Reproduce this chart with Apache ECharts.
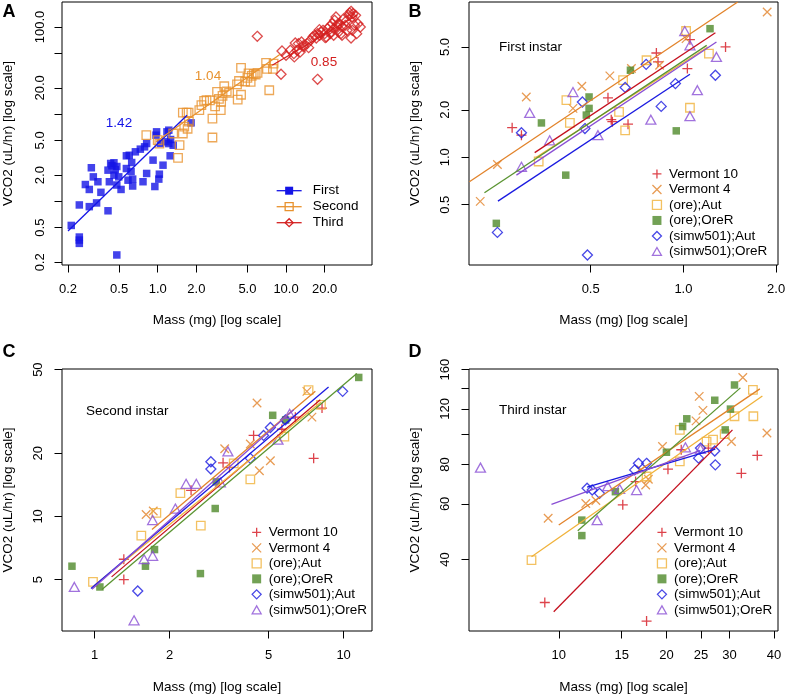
<!DOCTYPE html>
<html><head><meta charset="utf-8">
<script src="https://cdn.jsdelivr.net/npm/echarts@6/dist/echarts.min.js"></script>
<style>html,body{margin:0;padding:0;background:#fff}#c{width:787px;height:695px}</style>
</head><body><div id="c"></div>
<script>
// ---------- Panel A data (mass mg, VCO2 uL/hr) ----------
const aFirst = [[0.212,0.53],[0.245,0.91],[0.245,0.39],[0.245,0.36],[0.245,0.33],[0.273,1.56],[0.293,1.37],[0.293,0.87],[0.304,2.43],[0.315,1.91],[0.334,0.96],[0.342,1.68],[0.361,1.27],[0.41,0.78],[0.41,2.28],[0.42,1.68],[0.43,2.72],[0.44,2.56],[0.456,2.77],[0.467,2.3],[0.456,2.0],[0.48,1.54],[0.48,0.243],[0.497,1.91],[0.518,1.37],[0.48,2.51],[0.57,3.33],[0.57,2.38],[0.587,1.75],[0.6,3.38],[0.627,2.79],[0.62,2.2],[0.638,1.5],[0.638,1.8],[0.67,3.7],[0.732,3.97],[0.768,1.68],[0.79,4.22],[0.82,4.61],[0.82,2.09],[0.92,2.97],[0.95,1.48],[0.97,5.74],[0.98,6.27],[1.02,1.8],[1.03,2.05],[1.05,4.61],[1.1,2.6],[1.16,4.82],[1.18,6.27],[1.22,6.55],[1.22,4.6],[1.25,3.33],[1.26,5.12],[1.32,4.4],[1.82,7.95]];
const aSecond = [[0.815,5.74],[1.0,5.03],[1.03,4.6],[1.32,6.0],[1.44,3.16],[1.48,4.41],[1.57,6.0],[1.57,10.4],[1.61,7.2],[1.68,10.4],[1.71,6.8],[1.74,10.4],[1.75,8.2],[2.11,11.1],[2.19,12.7],[2.3,14.2],[2.4,14.5],[2.55,14.4],[2.67,8.9],[2.67,5.4],[2.8,12.3],[2.9,18],[3.0,15],[3.1,11.1],[3.12,13.8],[3.2,16.2],[3.3,20.9],[3.45,18.2],[3.6,17.5],[4.15,22],[4.2,14.7],[4.3,24],[4.46,34],[4.46,16.7],[4.8,23.7],[5.0,26],[5.1,29.3],[5.3,23.4],[5.4,27.5],[5.6,29],[5.8,28.5],[6.0,29.7],[6.99,38.7],[7.1,33],[7.4,18.8],[7.9,33],[8.0,38]];
const aThird = [[5.97,78.1],[9.3,53.0],[9.14,28.7],[17.6,25.1],[10.0,47.3],[11.6,45.3],[11.8,65.5],[12.2,54.0],[12.5,64.4],[13.2,67.3],[13.7,59.0],[14.6,64.4],[15.0,57.9],[15.5,70.3],[16.2,76.7],[16.6,80.2],[17.2,74.7],[17.6,83.8],[18.3,80.2],[18.7,87.5],[19.4,91.5],[20.0,83.8],[20.6,76.7],[21.1,95.6],[21.9,101.6],[22.4,87.5],[22.9,109.0],[23.5,95.6],[23.9,119.1],[24.5,130.0],[24.9,101.6],[25.7,87.5],[26.2,109.0],[26.8,83.8],[27.4,99.9],[28.1,124.4],[28.9,104.4],[29.9,91.5],[30.8,135.8],[31.3,144.5],[32.1,151.0],[32.6,130.0],[33.2,141.9],[34.1,104.4],[34.8,135.8],[35.5,83.8],[36.3,109.0],[37.9,99.9],[32.1,74.7],[27.3,80.2],[20.2,75.4],[13.7,61.6],[12.9,51.7],[11.5,49.4],[10.8,54.0],[18.2,93.1],[22.1,83.8],[23.5,80.2],[25.2,107.2],[29.4,117.0],[32.8,91.5]];
const aFitFirst = [[0.2,0.457],[1.69,9.73]];
const aFitSecond = [[0.97,4.82],[9.0,48.6]];
const aFitThird = [[7.8,36.4],[36,137]];
const aSlopes = ['1.42','1.04','0.85'];

// ---------- Panel B data: first instar ----------
const bV10 = [[0.278,1.54],[0.298,1.38],[0.569,2.38],[0.583,1.73],[0.588,1.68],[0.661,1.62],[0.817,4.58],[0.827,4.02],[1.03,3.65],[1.05,5.56],[1.37,5.0]];
const bV4 = [[0.219,0.525],[0.249,0.9],[0.309,2.41],[0.438,2.04],[0.468,2.82],[0.577,3.28],[0.678,3.65],[0.837,3.83],[1.02,5.65],[1.87,8.33]];
const bOreAut = [[0.339,0.94],[0.417,2.3],[0.428,1.65],[0.618,1.94],[0.637,3.08],[0.647,1.48],[0.759,4.12],[1.02,6.31],[1.05,2.06],[1.21,4.54]];
const bOreOreR = [[0.247,0.381],[0.346,1.65],[0.415,0.77],[0.484,1.85],[0.494,2.41],[0.494,2.04],[0.673,3.56],[0.948,1.47],[1.22,6.53]];
const bSimAut = [[0.249,0.334],[0.298,1.43],[0.47,2.24],[0.479,1.52],[0.488,0.24],[0.647,2.77],[0.757,3.88],[0.847,2.1],[0.942,2.93],[1.27,3.31]];
const bSimOreR = [[0.298,0.87],[0.317,1.91],[0.368,1.28],[0.438,2.59],[0.528,1.38],[0.784,1.73],[1.01,6.31],[1.05,5.12],[1.05,1.82],[1.11,2.66],[1.28,4.32]];
const bFitV10 = [[0.329,1.07],[1.27,6.16]];
const bFitV4 = [[0.202,0.70],[1.50,9.64]];
const bFitOreAut = [[0.333,1.0],[1.20,5.0]];
const bFitOreOreR = [[0.226,0.596],[1.19,5.12]];
const bFitSimAut = [[0.25,0.527],[1.05,3.36]];
const bFitSimOreR = [[0.287,0.77],[1.28,5.38]];

// ---------- Panel C data: second instar ----------
const cV10 = [[1.31,6.25],[1.31,5.0],[2.44,13.3],[3.28,18.0],[3.48,17.1],[4.35,24.3],[5.65,26.0],[6.4,29.7],[7.58,18.9],[8.19,32.8]];
const cV4 = [[1.61,10.2],[1.72,10.6],[3.33,21.0],[4.22,22.1],[4.49,34.7],[4.59,16.5],[5.08,18.4],[7.12,39.4],[7.46,29.7]];
const cOreAut = [[0.985,4.88],[1.54,8.09],[1.77,10.4],[2.21,12.9],[2.67,9.03],[3.62,17.9],[4.22,15.0],[5.78,24.0],[7.23,39.9],[8.11,34.0]];
const cOreOreR = [[0.811,5.79],[1.05,4.61],[1.6,5.79],[1.74,6.95],[2.66,5.34],[3.05,10.9],[3.08,14.6],[5.19,30.3],[5.85,28.8],[11.5,45.9]];
const cSimAut = [[1.49,4.41],[2.93,18.2],[2.93,16.8],[4.22,18.9],[4.77,24.3],[5.08,26.5],[5.84,28.8],[9.91,39.4]];
const cSimOreR = [[0.829,4.61],[1.44,3.2],[1.58,6.25],[1.71,6.49],[1.71,9.6],[2.11,10.9],[2.33,14.3],[2.56,14.3],[3.2,14.5],[3.43,20.4],[5.45,23.2],[6.07,30.8]];
const cFitV10 = [[1.17,5.15],[8.06,35.9]];
const cFitV4 = [[1.7,8.67],[7.7,39.4]];
const cFitOreAut = [[1.0,4.7],[8.1,35.0]];
const cFitOreOreR = [[1.07,4.48],[11.3,47.9]];
const cFitSimAut = [[0.967,4.53],[8.7,41.3]];
const cFitSimOreR = [[0.976,4.5],[6.3,32.2]];

// ---------- Panel D data: third instar ----------
const dV10 = [[9.14,29.2],[15.1,59.6],[16.4,70.6],[17.6,25.5],[20.2,77.3],[22.0,89.1],[26.2,90.2],[32.4,75.0],[35.9,85.5]];
const dV4 = [[9.34,54.0],[11.9,60.2],[12.7,61.5],[17.0,76.9],[17.5,68.9],[17.8,71.8],[19.5,91.2],[24.2,110],[24.7,131.6],[25.3,118.8],[30.4,94.6],[32.7,151],[38.2,100.7]];
const dOreAut = [[8.39,39.8],[17.6,73.3],[21.8,103],[21.8,81.9],[25.9,94.6],[27.0,95.9],[29.1,99.9],[31.0,113.8],[34.9,138],[35.0,113.8]];
const dOreOreR = [[11.6,53.3],[11.6,47.6],[14.4,65.6],[20.0,87.5],[22.2,105.6],[22.8,111.7],[27.3,127.9],[29.2,103],[30.2,119.9],[31.0,143]];
const dSimAut = [[12.0,67.3],[12.4,66.4],[13.0,64.8],[16.3,76.9],[16.7,80.7],[17.6,80.7],[24.6,83.8],[24.9,90.2],[27.3,88.3],[27.4,79.8]];
const dSimOreR = [[6.04,78.2],[12.8,53.3],[13.7,68.3],[14.8,66.9],[16.5,66.4],[22.6,90.7],[24.9,89.6]];
const dFitV10 = [[9.68,27.3],[30.6,103]];
const dFitV4 = [[10.0,51.4],[36.5,139]];
const dFitOreAut = [[8.39,40.8],[37.1,132]];
const dFitOreOreR = [[11.3,49.3],[32.2,140]];
const dFitSimAut = [[12.0,67.8],[27.4,89.5]];
const dFitSimOreR = [[9.54,59.8],[24.9,88.7]];

// ---------- categories & tick labels ----------
const aStages = ['First','Second','Third'];
const groups = ['Vermont 10','Vermont 4','(ore);Aut','(ore);OreR','(simw501);Aut','(simw501);OreR'];
const panelNotes = ['First instar','Second instar','Third instar'];
const aXTicks = [0.2,0.5,1,2,5,10,20], aXLabelVals = [0.2,0.5,1,2,5,10,20], aXLabels = ['0.2','0.5','1.0','2.0','5.0','10.0','20.0'];
const aYTicks = [0.2,0.5,1,2,5,10,20,50,100], aYLabelVals = [0.2,0.5,2,5,20,100], aYLabels = ['0.2','0.5','2.0','5.0','20.0','100.0'];
const bXTicks = [0.5,1,2], bXLabels = ['0.5','1.0','2.0'];
const bYTicks = [0.5,1,2,5], bYLabels = ['0.5','1.0','2.0','5.0'];
const cXTicks = [1,2,5,10], cXLabels = ['1','2','5','10'];
const cYTicks = [5,10,20,50], cYLabels = ['5','10','20','50'];
const dXTicks = [10,15,20,25,30,40], dXLabels = ['10','15','20','25','30','40'];
const dYTicks = [40,60,80,100,120,140,160], dYLabelVals = [40,60,80,120,160], dYLabels = ['40','60','80','120','160'];

// ---------- styling ----------
const FONT = "'Liberation Sans', Arial, Helvetica, sans-serif";
const L = Math.log10;
const PLUS = 'path://M0,-1L0,1M-1,0L1,0';
const CROSS = 'path://M-1,-1L1,1M-1,1L1,-1';
const SQUARE = 'path://M-1,-1L1,-1L1,1L-1,1Z';
const DIAMOND = 'path://M0,-1L1,0L0,1L-1,0Z';
const TRI = 'path://M0,-1L1,0.75L-1,0.75Z';
const gColors = ['#d4141e','#e2832a','#f0b23a','#4f8a2b','#1a1ae0','#8a4fd4'];
const gLineColors = ['#c4101e','#e2832a','#f0b23a','#5a9431','#1a1ae0','#8a4fd4'];
const gSymbols = [PLUS, CROSS, SQUARE, 'rect', DIAMOND, TRI];
const gSizes = [10, 8.5, 8.5, 7.5, 10, [10, 9]];
const aColors = ['#1414e6','#e8922e','#d42020'];
const aSymbols = ['rect', SQUARE, DIAMOND];
const aSizes = [7.5, 8.5, 10];

function pts(arr){ return arr.map(p => [L(p[0]), L(p[1])]); }
function symStyle(sym, c){
  if (sym === 'rect') return {color:c, borderColor:c, borderWidth:0};
  return {color:'rgba(0,0,0,0)', borderColor:c, borderWidth:1.3};
}

const panels = [
  {grid:{left:62, top:2, width:310, height:263}, x:[-0.7458,1.6698], y:[-0.7295,2.286],
   xt:aXTicks, xlv:aXLabelVals, xl:aXLabels, yt:aYTicks, ylv:aYLabelVals, yl:aYLabels, xm:17.5, ym:15, xg:48},
  {grid:{left:469, top:2, width:309, height:263}, x:[-0.696,0.307], y:[-0.683,0.984],
   xt:bXTicks, xlv:bXTicks, xl:bXLabels, yt:bYTicks, ylv:bYTicks, yl:bYLabels, xm:17.5, ym:17, xg:48},
  {grid:{left:62, top:369, width:310, height:262}, x:[-0.131,1.114], y:[0.454,1.702],
   xt:cXTicks, xlv:cXTicks, xl:cXLabels, yt:cYTicks, ylv:cYTicks, yl:cYLabels, xm:17.5, ym:17, xg:49},
  {grid:{left:469, top:369, width:309, height:262}, x:[0.749,1.613], y:[1.375,2.206],
   xt:dXTicks, xlv:dXTicks, xl:dXLabels, yt:dYTicks, ylv:dYLabelVals, yl:dYLabels, xm:17.5, ym:17, xg:49}
];

function fmt(vals, texts){
  return function(v){
    for (let i = 0; i < vals.length; i++) if (Math.abs(L(vals[i]) - v) < 1e-6) return texts[i];
    return '';
  };
}

const grids = [], xAxes = [], yAxes = [];
panels.forEach((p, i) => {
  grids.push(Object.assign({show:true, borderColor:'#000', borderWidth:1, backgroundColor:'rgba(0,0,0,0)', containLabel:false, outerBoundsMode:'none'}, p.grid));
  xAxes.push({type:'value', gridIndex:i, min:p.x[0], max:p.x[1], position:'bottom',
    axisLine:{show:false, onZero:false}, splitLine:{show:false},
    axisTick:{show:true, customValues:p.xt.map(L), length:7.5, lineStyle:{color:'#000', width:1}},
    axisLabel:{customValues:p.xlv.map(L), formatter:fmt(p.xlv, p.xl), margin:p.xm, color:'#000', fontSize:13, fontFamily:FONT},
    name:'Mass (mg) [log scale]', nameLocation:'middle', nameGap:p.xg,
    nameTextStyle:{color:'#000', fontSize:13.5, fontFamily:FONT}});
  yAxes.push({type:'value', gridIndex:i, min:p.y[0], max:p.y[1], position:'left',
    axisLine:{show:false, onZero:false}, splitLine:{show:false},
    axisTick:{show:true, customValues:p.yt.map(L), length:7.5, lineStyle:{color:'#000', width:1}},
    axisLabel:{customValues:p.ylv.map(L), formatter:fmt(p.ylv, p.yl), rotate:90, margin:p.ym, color:'#000', fontSize:13, fontFamily:FONT},
    name:'VCO2 (uL/hr) [log scale]', nameLocation:'middle', nameGap:47,
    nameTextStyle:{color:'#000', fontSize:13.5, fontFamily:FONT}});
});

const series = [];
// Panel A: fit lines first (legend picks them), then points
const aPts = [aFirst, aSecond, aThird];
const aFits = [aFitFirst, aFitSecond, aFitThird];
aStages.forEach((s, k) => {
  series.push({type:'line', name:s, xAxisIndex:0, yAxisIndex:0, data:pts(aFits[k]), showSymbol:false,
    symbol:aSymbols[k], symbolSize:aSizes[k], itemStyle:symStyle(aSymbols[k], aColors[k]),
    lineStyle:{color:aColors[k], width:1.3}, z:4, silent:true, animation:false});
});
aStages.forEach((s, k) => {
  series.push({type:'scatter', name:s, xAxisIndex:0, yAxisIndex:0, data:pts(aPts[k]),
    symbol:aSymbols[k], symbolSize:aSizes[k], itemStyle:symStyle(aSymbols[k], aColors[k]), z:2, silent:true, animation:false});
});
const gPts = [[bV10,bV4,bOreAut,bOreOreR,bSimAut,bSimOreR],[cV10,cV4,cOreAut,cOreOreR,cSimAut,cSimOreR],[dV10,dV4,dOreAut,dOreOreR,dSimAut,dSimOreR]];
const gFits = [[bFitV10,bFitV4,bFitOreAut,bFitOreOreR,bFitSimAut,bFitSimOreR],[cFitV10,cFitV4,cFitOreAut,cFitOreOreR,cFitSimAut,cFitSimOreR],[dFitV10,dFitV4,dFitOreAut,dFitOreOreR,dFitSimAut,dFitSimOreR]];
for (let pi = 0; pi < 3; pi++) {
  const ax = pi + 1;
  groups.forEach((g, k) => {
    series.push({type:'scatter', name:g, xAxisIndex:ax, yAxisIndex:ax, data:pts(gPts[pi][k]),
      symbol:gSymbols[k], symbolSize:gSizes[k], itemStyle:symStyle(gSymbols[k], gColors[k]), z:2, silent:true, animation:false});
  });
  groups.forEach((g, k) => {
    series.push({type:'line', name:g + ' fit', xAxisIndex:ax, yAxisIndex:ax, data:pts(gFits[pi][k]), showSymbol:false, symbol:'none',
      lineStyle:{color:gLineColors[k], width:1.3}, z:4, silent:true, animation:false});
  });
}

const legTxt = {color:'#000', fontSize:13.5, fontFamily:FONT};
function groupLegend(left, top){
  return {orient:'vertical', left:left, top:top, padding:0, itemGap:0, itemWidth:9, itemHeight:9, selectedMode:false,
    data:groups.map((g, k) => ({name:g, itemStyle:symStyle(gSymbols[k], gColors[k])})),
    textStyle:Object.assign({lineHeight:15.5, padding:[0,0,0,2.5]}, legTxt)};
}
const legends = [
  {orient:'vertical', left:276, top:182.7, padding:0, itemGap:0, itemWidth:25, itemHeight:10, selectedMode:false,
   data:aStages.map((s, k) => ({name:s, itemStyle:symStyle(aSymbols[k], aColors[k]), lineStyle:{color:aColors[k], width:1.3}})),
   textStyle:Object.assign({lineHeight:16, padding:[0,0,0,6]}, legTxt)},
  groupLegend(651.8, 166.2),
  groupLegend(251.5, 524.6),
  groupLegend(656.8, 524.6)
];

function txt(t, x, y, fill, font, align){
  return {type:'text', x:x, y:y, silent:true, z:10, style:{text:t, fill:fill, font:font, align:align||'center', verticalAlign:'middle'}};
}
const F135 = "13.5px " + FONT, FB = "bold 18px " + FONT;
const graphics = [
  txt('A', 9, 12, '#000', FB), txt('B', 415, 12, '#000', FB), txt('C', 9, 352, '#000', FB), txt('D', 415, 352, '#000', FB),
  txt(aSlopes[0], 119, 123, aColors[0], F135), txt(aSlopes[1], 208, 76, aColors[1], F135), txt(aSlopes[2], 324, 62, aColors[2], F135),
  txt(panelNotes[0], 499, 47, '#000', F135, 'left'), txt(panelNotes[1], 86, 411, '#000', F135, 'left'), txt(panelNotes[2], 499, 410, '#000', F135, 'left')
];

const chart = echarts.init(document.getElementById('c'), null, {renderer:'canvas'});
chart.setOption({
  animation:false, backgroundColor:'#fff',
  grid:grids, xAxis:xAxes, yAxis:yAxes, series:series, legend:legends, graphic:graphics
});
</script></body></html>
